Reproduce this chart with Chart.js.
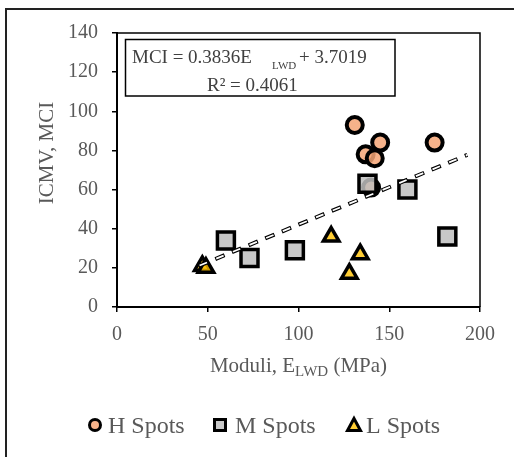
<!DOCTYPE html>
<html>
<head>
<meta charset="utf-8">
<script src="https://cdn.jsdelivr.net/npm/chart.js@4/dist/chart.umd.min.js"></script>
<style>
html,body{margin:0;padding:0;background:#fff;}
#wrap{width:514px;height:457px;position:relative;}
</style>
</head>
<body>
<div id="wrap"><canvas id="c" width="514" height="457"></canvas></div>
<script>
// Data
const hSpotsX = [131, 145, 137, 142, 175, 140];
const hSpotsY = [93, 84, 78, 76, 84, 61];
const mSpotsX = [138, 160, 182, 60, 73, 98];
const mSpotsY = [63, 60, 36, 34, 25, 29];
const lSpotsX = [47, 49, 118, 134, 128];
const lSpotsY = [21, 20, 36, 27, 17];
const trendX = [45, 193];
const trendY = [21, 77.7];
const seriesLabels = ['H Spots', 'M Spots', 'L Spots'];
const xTicks = [0, 50, 100, 150, 200];
const yTicks = [0, 20, 40, 60, 80, 100, 120, 140];
const eqLine1 = 'MCI = 0.3836E';
const eqSub = 'LWD';
const eqLine1b = '+ 3.7019';
const eqLine2 = 'R\u00B2 = 0.4061';
const yTitle = 'ICMV, MCI';
const xTitleParts = ['Moduli, E', 'LWD', ' (MPa)'];

const pts = (xs, ys) => xs.map((x, i) => ({x: x, y: ys[i]}));

const FONT = "'Liberation Serif','Times New Roman',serif";
const TXT = '#595959';
const ORANGE = 'rgba(244,164,118,0.85)';
const GRAY = 'rgba(190,190,190,0.85)';
const YELLOW = 'rgba(255,192,0,0.8)';

const decor = {
  id: 'decor',
  beforeDraw(chart) {
    const ctx = chart.ctx;
    ctx.save();
    ctx.fillStyle = '#fff';
    ctx.fillRect(0, 0, 514, 457);
    ctx.strokeStyle = '#222';
    ctx.lineWidth = 2;
    ctx.beginPath();
    ctx.moveTo(5, 9); ctx.lineTo(514, 9);
    ctx.moveTo(6, 9); ctx.lineTo(6, 457);
    ctx.stroke();
    ctx.restore();
  },
  afterDraw(chart) {
    const ctx = chart.ctx;
    const a = chart.chartArea;
    ctx.save();
    ctx.strokeStyle = '#000';
    ctx.lineWidth = 1.5;
    ctx.beginPath();
    ctx.moveTo(a.left, a.top); ctx.lineTo(a.right, a.top); ctx.lineTo(a.right, a.bottom);
    ctx.stroke();

    // equation box
    ctx.fillStyle = '#fff';
    ctx.fillRect(125.5, 39.5, 269.5, 56.5);
    ctx.lineWidth = 1.5;
    ctx.strokeRect(125.5, 39.5, 269.5, 56.5);
    ctx.fillStyle = '#404040';
    ctx.textBaseline = 'alphabetic';
    ctx.textAlign = 'left';
    ctx.font = '19px ' + FONT;
    ctx.fillText(eqLine1, 132, 63);
    ctx.font = '11px ' + FONT;
    ctx.fillText(eqSub, 272, 69);
    ctx.font = '19px ' + FONT;
    ctx.fillText(eqLine1b, 299, 63);
    ctx.fillText(eqLine2, 207, 91);

    // y title
    ctx.fillStyle = TXT;
    ctx.save();
    ctx.translate(53, 153);
    ctx.rotate(-Math.PI / 2);
    ctx.textAlign = 'center';
    ctx.font = '21px ' + FONT;
    ctx.fillText(yTitle, 0, 0);
    ctx.restore();

    // x title with subscript
    ctx.font = '21px ' + FONT;
    const w1 = ctx.measureText(xTitleParts[0]).width;
    const w3 = ctx.measureText(xTitleParts[2]).width;
    ctx.font = '15px ' + FONT;
    const w2 = ctx.measureText(xTitleParts[1]).width;
    let x0 = (a.left + a.right) / 2 - (w1 + w2 + w3) / 2;
    ctx.font = '21px ' + FONT;
    ctx.fillText(xTitleParts[0], x0, 372);
    ctx.font = '15px ' + FONT;
    ctx.fillText(xTitleParts[1], x0 + w1, 376);
    ctx.font = '21px ' + FONT;
    ctx.fillText(xTitleParts[2], x0 + w1 + w2, 372);

    // legend
    const ly = 425;
    ctx.lineWidth = 3;
    ctx.strokeStyle = '#000';
    ctx.fillStyle = ORANGE;
    ctx.beginPath(); ctx.arc(95, ly, 5.5, 0, Math.PI * 2); ctx.fill(); ctx.stroke();
    ctx.fillStyle = GRAY;
    ctx.beginPath(); ctx.rect(214.5, ly - 5.5, 11, 11); ctx.fill(); ctx.stroke();
    ctx.fillStyle = YELLOW;
    ctx.lineJoin = 'miter';
    ctx.beginPath(); ctx.moveTo(354, ly - 6.5); ctx.lineTo(360.5, ly + 5.5); ctx.lineTo(347.5, ly + 5.5); ctx.closePath(); ctx.fill(); ctx.stroke();
    ctx.fillStyle = TXT;
    ctx.font = '24px ' + FONT;
    ctx.textAlign = 'left';
    ctx.fillText(seriesLabels[0], 108, 433);
    ctx.fillText(seriesLabels[1], 235, 433);
    ctx.fillText(seriesLabels[2], 366, 433);
    ctx.restore();
  }
};

new Chart(document.getElementById('c'), {
  type: 'scatter',
  data: {
    datasets: [
      {label: 'trend-in', data: pts(trendX, trendY), showLine: true, borderColor: '#fff', borderWidth: 1.8,
       borderDash: [8, 10], borderDashOffset: -1, pointRadius: 0, order: 0},
      {label: 'trend', data: pts(trendX, trendY), showLine: true, borderColor: '#000', borderWidth: 4,
       borderDash: [10, 8], pointRadius: 0, order: 1},
      {label: seriesLabels[2], data: pts(lSpotsX, lSpotsY), pointStyle: 'triangle', pointRadius: 9,
       backgroundColor: YELLOW, borderColor: '#000', borderWidth: 3.5, order: 2},
      {label: seriesLabels[1], data: pts(mSpotsX, mSpotsY), pointStyle: 'rect', pointRadius: 12,
       backgroundColor: GRAY, borderColor: '#000', borderWidth: 3.5, order: 3},
      {label: seriesLabels[0], data: pts(hSpotsX, hSpotsY), pointStyle: 'circle', pointRadius: 8,
       backgroundColor: ORANGE, borderColor: '#000', borderWidth: 4, order: 4}
    ]
  },
  options: {
    responsive: false,
    animation: false,
    events: [],
    layout: {padding: {left: 0, top: 33, right: 34, bottom: 0}},
    plugins: {legend: {display: false}, tooltip: {enabled: false}},
    scales: {
      x: {
        type: 'linear', min: 0, max: 200,
        afterBuildTicks: s => { s.ticks = xTicks.map(v => ({value: v})); },
        afterFit: s => { s.height = 150; },
        grid: {drawOnChartArea: false, drawTicks: true, tickLength: 5, color: '#000', lineWidth: 1.5},
        border: {display: true, color: '#000', width: 2},
        ticks: {color: TXT, font: {family: FONT, size: 20}, padding: 11, maxRotation: 0}
      },
      y: {
        type: 'linear', min: 0, max: 140,
        afterBuildTicks: s => { s.ticks = yTicks.map(v => ({value: v})); },
        afterFit: s => { s.width = 117; },
        grid: {drawOnChartArea: false, drawTicks: true, tickLength: 5, color: '#000', lineWidth: 1.5},
        border: {display: true, color: '#000', width: 2},
        ticks: {color: TXT, font: {family: FONT, size: 20}, padding: 14}
      }
    }
  },
  plugins: [decor]
});
</script>
</body>
</html>
